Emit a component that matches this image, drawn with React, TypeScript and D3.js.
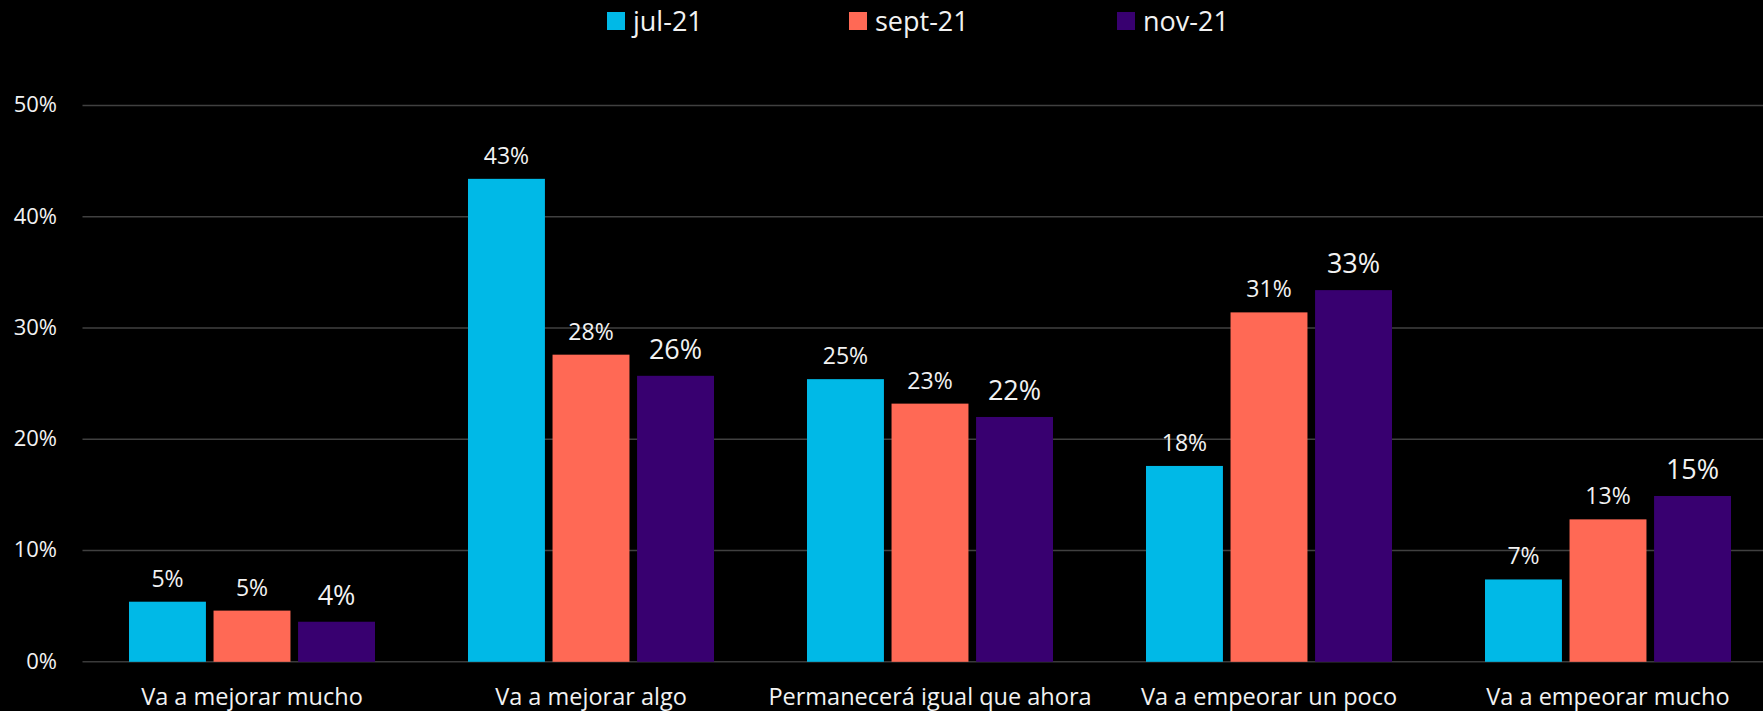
import * as d3 from "d3";

const categories = [
    "Va a mejorar mucho",
    "Va a mejorar algo",
    "Permanecerá igual que ahora",
    "Va a empeorar un poco",
    "Va a empeorar mucho",
];

const seriesNames = ["jul-21", "sept-21", "nov-21"];
const seriesColors = ["#00B9E7", "#FF6955", "#380070"];

const jul21 = [5.4, 43.4, 25.4, 17.6, 7.4];
const sept21 = [4.6, 27.6, 23.2, 31.4, 12.8];
const nov21 = [3.6, 25.7, 22.0, 33.4, 14.9];

const yTickValues = [0, 10, 20, 30, 40, 50];

const seriesValues = [jul21, sept21, nov21];

export default function App() {
    const width = 1763;
    const height = 711;
    const font = "'Open Sans', 'Noto Sans', sans-serif";

    const xOuter = d3
        .scaleBand()
        .domain(categories)
        .range([82.5, 1777.5])
        .padding(0);

    const xInner = d3
        .scaleBand()
        .domain(seriesNames)
        .range([0, xOuter.bandwidth()])
        .paddingInner(0.09)
        .paddingOuter(0.55);

    const yScale = d3.scaleLinear().domain([0, 50]).range([661.8, 105.4]);

    const legendX = [607, 849, 1117];

    return (
        <svg
            width={width}
            height={height}
            viewBox={`0 0 ${width} ${height}`}
            style={{ position: "absolute", left: 0, top: 0, background: "#000" }}
        >
            <rect x={0} y={0} width={width} height={height} fill="#000" />

            {yTickValues.map((tick) => (
                <g key={tick}>
                    <line
                        x1={82.5}
                        x2={width}
                        y1={yScale(tick)}
                        y2={yScale(tick)}
                        stroke={tick === 0 ? "#3a3a3a" : "#404040"}
                        strokeWidth={1.5}
                    />
                    <text
                        x={57}
                        y={yScale(tick) + 1}
                        textAnchor="end"
                        dominantBaseline="middle"
                        fontSize="22"
                        fontFamily={font}
                        fill="#f2f2f2"
                    >
                        {tick}%
                    </text>
                </g>
            ))}

            {categories.map((cat, ci) => {
                const gx = xOuter(cat) ?? 0;
                return (
                    <g key={cat}>
                        {seriesNames.map((s, si) => {
                            const v = seriesValues[si][ci];
                            const x = gx + (xInner(s) ?? 0);
                            const bw = xInner.bandwidth();
                            const y = yScale(v);
                            const big = si === 2;
                            return (
                                <g key={s}>
                                    <rect
                                        x={x}
                                        y={y}
                                        width={bw}
                                        height={yScale(0) - y}
                                        fill={seriesColors[si]}
                                    />
                                    <text
                                        x={x + bw / 2}
                                        y={y - (big ? 17 : 15)}
                                        textAnchor="middle"
                                        fontSize={big ? 27 : 23}
                                        fontFamily={font}
                                        fill="#f2f2f2"
                                    >
                                        {Math.round(v)}%
                                    </text>
                                </g>
                            );
                        })}
                        <text
                            x={gx + xOuter.bandwidth() / 2}
                            y={705}
                            textAnchor="middle"
                            fontSize="23.5"
                            fontFamily={font}
                            fill="#f2f2f2"
                        >
                            {cat}
                        </text>
                    </g>
                );
            })}

            {seriesNames.map((s, si) => (
                <g key={s}>
                    <rect
                        x={legendX[si]}
                        y={12}
                        width={18}
                        height={18}
                        fill={seriesColors[si]}
                    />
                    <text
                        x={legendX[si] + 26}
                        y={31}
                        fontSize="27"
                        fontFamily={font}
                        fill="#f2f2f2"
                    >
                        {s}
                    </text>
                </g>
            ))}
        </svg>
    );
}
